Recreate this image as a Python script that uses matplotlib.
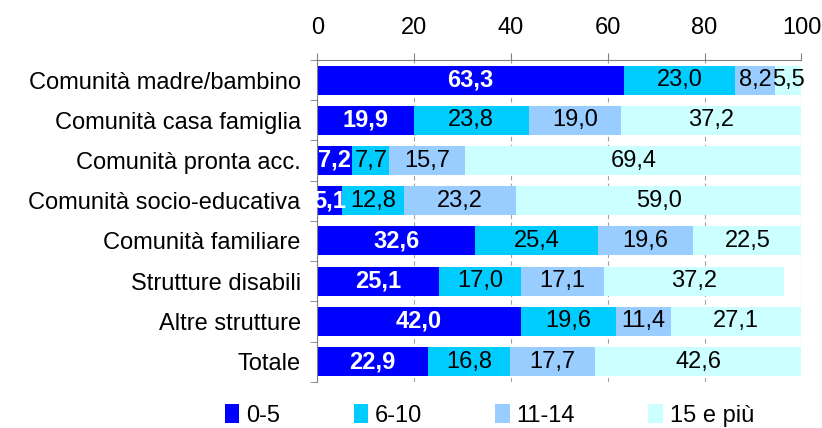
import numpy as np
import matplotlib.pyplot as plt

plt.rcParams['font.family'] = ['Liberation Sans', 'DejaVu Sans']

categories = ["Comunità madre/bambino", "Comunità casa famiglia", "Comunità pronta acc.",
              "Comunità socio-educativa", "Comunità familiare", "Strutture disabili",
              "Altre strutture", "Totale"]
age_0_5 = [63.3, 19.9, 7.2, 5.1, 32.6, 25.1, 42.0, 22.9]
age_6_10 = [23.0, 23.8, 7.7, 12.8, 25.4, 17.0, 19.6, 16.8]
age_11_14 = [8.2, 19.0, 15.7, 23.2, 19.6, 17.1, 11.4, 17.7]
age_15_plus = [5.5, 37.2, 69.4, 59.0, 22.5, 37.2, 27.1, 42.6]
series_labels = ["0-5", "6-10", "11-14", "15 e più"]
colors = ["#0000FF", "#00CCFF", "#99CCFF", "#CCFFFF"]

fs = 17

fig = plt.figure(figsize=(8.22, 4.28), dpi=100)
ax = fig.add_axes([0.386, 0.108, 0.589, 0.752])

y = np.arange(len(categories))
left = np.zeros(len(categories))
for i, vals in enumerate([age_0_5, age_6_10, age_11_14, age_15_plus]):
    vals = np.array(vals)
    ax.barh(y, vals, left=left, height=0.72, color=colors[i], label=series_labels[i], zorder=2)
    for yy, l, v in zip(y, left, vals):
        if i == 0:
            ax.text(l + v / 2, yy, f"{v:.1f}".replace('.', ','), ha='center', va='center',
                    color='white', fontweight='bold', fontsize=fs, zorder=3)
        else:
            ax.text(l + v / 2, yy, f"{v:.1f}".replace('.', ','), ha='center', va='center',
                    color='black', fontsize=fs, zorder=3)
    left += vals

ax.set_xlim(0, 100)
ax.set_ylim(len(categories) - 0.5, -0.5)
ax.xaxis.tick_top()
ax.set_xticks([0, 20, 40, 60, 80, 100])
ax.tick_params(axis='x', labelsize=fs, length=5, color='#808080', pad=10)
ax.set_yticks(y)
ax.set_yticklabels(categories, fontsize=fs)
ax.set_yticks(np.arange(-0.5, len(categories)), minor=True)
ax.tick_params(axis='y', which='major', length=0, pad=12)
ax.tick_params(axis='y', which='minor', length=5, color='#808080')
ax.grid(axis='x', color='#A0A0A0', linestyle=(0, (4, 3)), linewidth=0.8, zorder=0)
for s in ['right', 'bottom']:
    ax.spines[s].set_visible(False)
for s in ['top', 'left']:
    ax.spines[s].set_color('#808080')

ax.legend(loc='center left', bbox_to_anchor=(-0.19, -0.105), ncol=4, frameon=False,
          fontsize=fs, handlelength=0.6, handleheight=0.8, handletextpad=0.3,
          columnspacing=3.1, borderpad=0, borderaxespad=0)

fig.savefig("out.png", dpi=100)
